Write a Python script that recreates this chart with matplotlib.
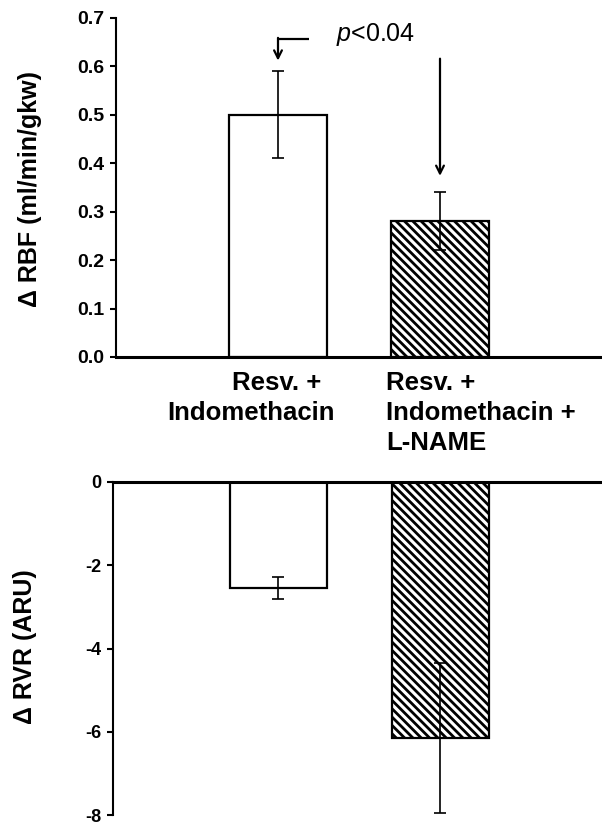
import numpy as np
import matplotlib.pyplot as plt

plt.rcParams['font.family'] = ['Liberation Sans', 'DejaVu Sans']
plt.rcParams['mathtext.fontset'] = 'custom'
plt.rcParams['mathtext.rm'] = 'Liberation Sans'
plt.rcParams['mathtext.it'] = 'Liberation Sans:italic'
plt.rcParams['hatch.linewidth'] = 2.0

# data
groups = ['Resv. +\nIndomethacin', 'Resv. +\nIndomethacin +\nL-NAME']
rbf_mean = [0.50, 0.28]
rbf_err = [0.09, 0.06]
rvr_mean = [-2.54, -6.14]
rvr_err = [0.26, 1.80]
hatches = ['', '\\\\\\\\']
rbf_ticks = [0.0, 0.1, 0.2, 0.3, 0.4, 0.5, 0.6, 0.7]
rvr_ticks = [0, -2, -4, -6, -8]
p_text = r'$\mathit{p}$<0.04'

W, H = 602, 826
fig = plt.figure(figsize=(W / 100, H / 100), dpi=100)

def px_axes(left, top, right, bottom):
    return fig.add_axes([left / W, 1 - bottom / H, (right - left) / W, (bottom - top) / H])

x = np.arange(len(groups))
bar_w = 0.6

# top panel: RBF
ax1 = px_axes(116, 18, 602, 357)
for i in x:
    ax1.bar(x[i], rbf_mean[i], bar_w, color='white', edgecolor='black',
            hatch=hatches[i], linewidth=1.6, zorder=2)
ax1.errorbar(x, rbf_mean, yerr=rbf_err, fmt='none', ecolor='black',
             elinewidth=1.2, capsize=4.3, capthick=1.2, zorder=3)
ax1.set_xlim(-1.0, 2.0)
ax1.set_ylim(0, 0.7)
ax1.set_yticks(rbf_ticks)
ax1.set_yticklabels([f'{t:.1f}' for t in rbf_ticks])
ax1.set_xticks([])
for s in ['top', 'right']:
    ax1.spines[s].set_visible(False)
ax1.spines['left'].set_linewidth(1.5)
ax1.spines['bottom'].set_linewidth(2.2)
ax1.tick_params(axis='y', direction='out', length=4.5, width=1.5, pad=4,
                labelsize=14)
for lab in ax1.get_yticklabels():
    lab.set_fontweight('bold')
ax1.set_ylabel('Δ RBF (ml/min/gkw)', fontsize=18, fontweight='bold')
ax1.yaxis.set_label_coords(-0.152, 0.496)

# significance arrows
ax1.plot([0.19, 0.0], [0.657, 0.657], color='black', lw=1.6, solid_capstyle='butt')
ax1.annotate('', xy=(0.0, 0.612), xytext=(0.0, 0.659),
             arrowprops=dict(arrowstyle='->', lw=1.6, color='black',
                             mutation_scale=14, shrinkA=0, shrinkB=0))
ax1.annotate('', xy=(1.0, 0.374), xytext=(1.0, 0.616),
             arrowprops=dict(arrowstyle='->', lw=1.6, color='black',
                             mutation_scale=14, shrinkA=0, shrinkB=0))
ax1.text(0.358, 0.665, p_text, fontsize=18, ha='left', va='center')

# category labels between panels
lab_lines = [g.split('\n') for g in groups]
line_y = [383, 413, 443]
first_cx = [277, 251]
for j, line in enumerate(lab_lines[0]):
    fig.text(first_cx[j] / W, 1 - line_y[j] / H, line, fontsize=18.5,
             fontweight='bold', ha='center', va='center')
for j, line in enumerate(lab_lines[1]):
    fig.text(386 / W, 1 - line_y[j] / H, line, fontsize=18.5,
             fontweight='bold', ha='left', va='center')

# bottom panel: RVR
ax2 = px_axes(113, 482, 602, 815)
for i in x:
    ax2.bar(x[i], rvr_mean[i], bar_w, color='white', edgecolor='black',
            hatch=hatches[i], linewidth=1.6, zorder=2)
ax2.errorbar(x, rvr_mean, yerr=rvr_err, fmt='none', ecolor='black',
             elinewidth=1.2, capsize=4.3, capthick=1.2, zorder=3)
ax2.set_xlim(-1.02, 2.0)
ax2.set_ylim(-8, 0)
ax2.set_yticks(rvr_ticks)
ax2.set_yticklabels([str(t) for t in rvr_ticks])
ax2.set_xticks([])
for s in ['bottom', 'right']:
    ax2.spines[s].set_visible(False)
ax2.spines['left'].set_linewidth(1.5)
ax2.spines['top'].set_linewidth(2.2)
ax2.tick_params(axis='y', direction='out', length=4.5, width=1.5, pad=4,
                labelsize=13)
for lab in ax2.get_yticklabels():
    lab.set_fontweight('bold')
ax2.set_ylabel('Δ RVR (ARU)', fontsize=18, fontweight='bold')
ax2.yaxis.set_label_coords(-0.155, 0.506)

fig.savefig('out.png', dpi=100)
